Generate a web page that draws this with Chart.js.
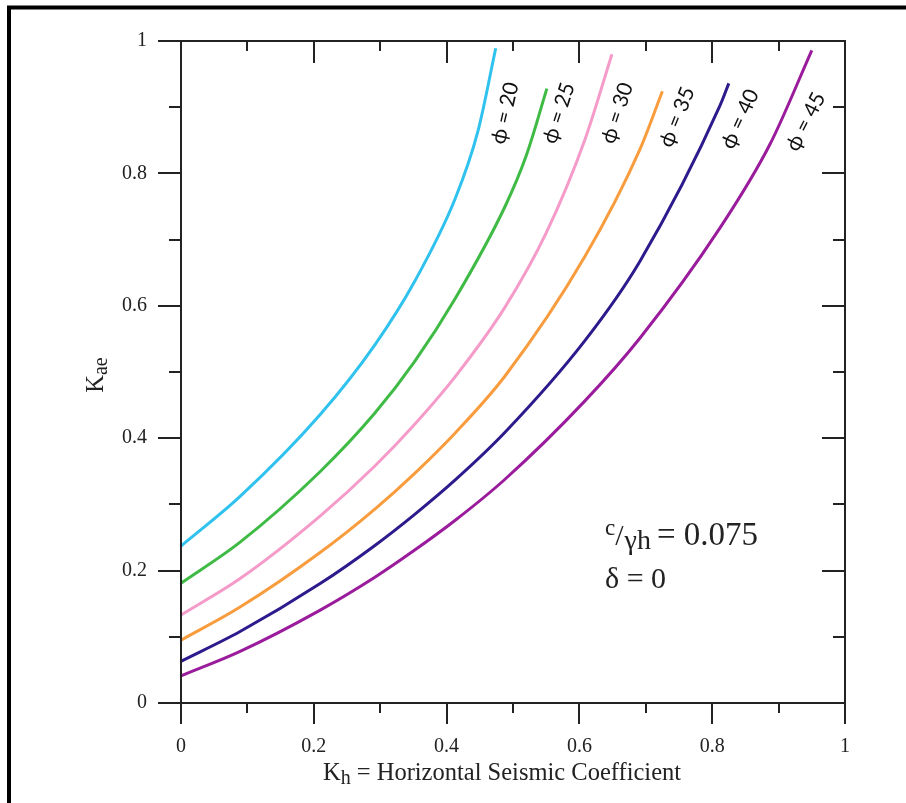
<!DOCTYPE html>
<html>
<head>
<meta charset="utf-8">
<script src="https://cdn.jsdelivr.net/npm/chart.js@4/dist/chart.umd.min.js"></script>
<style>
  html, body { margin: 0; padding: 0; background: #fff; }
  #wrap { width: 906px; height: 803px; position: relative; }
</style>
</head>
<body>
<div id="wrap"><canvas id="c" width="906" height="803"></canvas></div>
<script>
// Seismic active earth pressure coefficient Kae vs horizontal seismic coefficient Kh
// for c/(γh) = 0.075, δ = 0, one curve per friction angle φ.
const frictionAngles = [20, 25, 30, 35, 40, 45];

const khPhi20  = [0, 0.089, 0.209, 0.292, 0.352, 0.413, 0.447, 0.474];
const kaePhi20 = [0.237, 0.312, 0.435, 0.541, 0.637, 0.762, 0.863, 0.989];

const khPhi25  = [0, 0.089, 0.209, 0.292, 0.352, 0.413, 0.488, 0.520, 0.551];
const kaePhi25 = [0.181, 0.243, 0.349, 0.438, 0.516, 0.611, 0.750, 0.827, 0.928];

const khPhi30  = [0, 0.089, 0.209, 0.292, 0.352, 0.413, 0.488, 0.550, 0.608, 0.649];
const kaePhi30 = [0.133, 0.188, 0.282, 0.358, 0.421, 0.493, 0.598, 0.710, 0.850, 0.980];

const khPhi35  = [0, 0.089, 0.209, 0.292, 0.352, 0.413, 0.488, 0.608, 0.691, 0.725];
const kaePhi35 = [0.095, 0.145, 0.227, 0.293, 0.347, 0.408, 0.494, 0.674, 0.836, 0.924];

const khPhi40  = [0, 0.089, 0.209, 0.292, 0.352, 0.413, 0.488, 0.608, 0.691, 0.812, 0.825];
const kaePhi40 = [0.063, 0.108, 0.180, 0.238, 0.285, 0.337, 0.409, 0.547, 0.667, 0.903, 0.936];

const khPhi45  = [0, 0.089, 0.209, 0.292, 0.352, 0.413, 0.488, 0.608, 0.691, 0.812, 0.887, 0.950];
const kaePhi45 = [0.041, 0.078, 0.140, 0.190, 0.231, 0.276, 0.338, 0.456, 0.551, 0.718, 0.844, 0.986];

// Axis ticks
const xTickValues = [0, 0.2, 0.4, 0.6, 0.8, 1];
const yTickValues = [0, 0.2, 0.4, 0.6, 0.8, 1];

// Where each "φ = n" label sits, in data units (Kh, Kae), and its slant
const labelKh  = [0.488, 0.569, 0.657, 0.747, 0.842, 0.941];
const labelKae = [0.891, 0.891, 0.891, 0.885, 0.882, 0.878];
const labelAngle = [-77, -72, -72, -68, -65, -63];

const seriesKh  = [khPhi20, khPhi25, khPhi30, khPhi35, khPhi40, khPhi45];
const seriesKae = [kaePhi20, kaePhi25, kaePhi30, kaePhi35, kaePhi40, kaePhi45];
const colors = ['#2fc2ef', '#3fbb45', '#f59bc9', '#f89c3e', '#2c1b8c', '#9a1c9c'];

const SERIF = '"Liberation Serif", "Times New Roman", serif';
const INK = '#222';

const datasets = frictionAngles.map((phi, i) => ({
  label: 'φ = ' + phi,
  data: seriesKh[i].map((x, j) => ({ x: x, y: seriesKae[i][j] })),
  showLine: true,
  borderColor: colors[i],
  backgroundColor: colors[i],
  borderWidth: 3,
  pointRadius: 0,
  fill: false,
  cubicInterpolationMode: 'monotone'
}));

// Draws a run of text pieces with their own sizes and vertical shifts
function drawRuns(ctx, x, y, runs) {
  let cx = x;
  ctx.textAlign = 'left';
  ctx.textBaseline = 'alphabetic';
  runs.forEach(r => {
    ctx.font = r.size + 'px ' + (r.family || SERIF);
    ctx.fillText(r.t, cx, y + (r.dy || 0));
    cx += ctx.measureText(r.t).width + (r.gap || 0);
  });
  return cx - x;
}
function runsWidth(ctx, runs) {
  let w = 0;
  runs.forEach(r => {
    ctx.font = r.size + 'px ' + (r.family || SERIF);
    w += ctx.measureText(r.t).width + (r.gap || 0);
  });
  return w;
}

const framePlugin = {
  id: 'frame',
  beforeDraw(chart) {
    const ctx = chart.ctx;
    ctx.save();
    ctx.fillStyle = '#fff';
    ctx.fillRect(0, 0, chart.width, chart.height);
    // page border along top and left edge
    ctx.strokeStyle = '#000';
    ctx.lineWidth = 4;
    ctx.beginPath();
    ctx.moveTo(9, chart.height);
    ctx.lineTo(9, 7.5);
    ctx.lineTo(chart.width, 7.5);
    ctx.stroke();
    ctx.restore();
  },
  afterDraw(chart) {
    const ctx = chart.ctx;
    const xs = chart.scales.x, ys = chart.scales.y;
    const a = chart.chartArea;
    ctx.save();
    ctx.strokeStyle = INK;
    ctx.lineWidth = 2;
    ctx.strokeRect(a.left, a.top, a.right - a.left, a.bottom - a.top);
    ctx.beginPath();
    for (let k = 0; k <= 10; k++) {
      const v = k / 10;
      const major = k % 2 === 0;
      const px = Math.round(xs.getPixelForValue(v));
      const py = Math.round(ys.getPixelForValue(v));
      const lo = major ? 21 : 10;
      const li = major ? 22 : 10;
      // bottom: outward, top: inward
      ctx.moveTo(px, a.bottom); ctx.lineTo(px, a.bottom + lo);
      ctx.moveTo(px, a.top); ctx.lineTo(px, a.top + li);
      // left: outward, right: inward
      ctx.moveTo(a.left, py); ctx.lineTo(a.left - (major ? 23 : 12), py);
      ctx.moveTo(a.right, py); ctx.lineTo(a.right - (major ? 23 : 12), py);
    }
    ctx.stroke();

    ctx.fillStyle = INK;
    // x axis title
    const xt = [
      { t: 'K', size: 24.5 },
      { t: 'h', size: 20, dy: 4 },
      { t: ' = Horizontal Seismic Coefficient', size: 24.5 }
    ];
    const xw = runsWidth(ctx, xt);
    drawRuns(ctx, 502 - xw / 2, 780, xt);

    // y axis title, rotated
    const yt = [
      { t: 'K', size: 24.5 },
      { t: 'ae', size: 20, dy: 4 }
    ];
    const yw = runsWidth(ctx, yt);
    ctx.save();
    ctx.translate(103, 375);
    ctx.rotate(-Math.PI / 2);
    drawRuns(ctx, -yw / 2, 0, yt);
    ctx.restore();

    // parameter note
    const nx = xs.getPixelForValue(0.6386);
    drawRuns(ctx, nx, ys.getPixelForValue(0.2387), [
      { t: 'c', size: 23, dy: -10 },
      { t: '/', size: 30, gap: 1 },
      { t: 'γh', size: 28, dy: 4, gap: 6 },
      { t: '= 0.075', size: 33 }
    ]);
    drawRuns(ctx, nx, ys.getPixelForValue(0.1737), [
      { t: 'δ = 0', size: 30 }
    ]);

    // curve labels
    frictionAngles.forEach((phi, i) => {
      ctx.save();
      ctx.translate(xs.getPixelForValue(labelKh[i]), ys.getPixelForValue(labelKae[i]));
      ctx.rotate(labelAngle[i] * Math.PI / 180);
      ctx.font = '21px Lato, "Open Sans", sans-serif';
      ctx.fillStyle = '#111';
      ctx.textAlign = 'center';
      ctx.textBaseline = 'middle';
      ctx.fillText('ϕ = ' + phi, 0, 0);
      ctx.restore();
    });
    ctx.restore();
  }
};

new Chart(document.getElementById('c'), {
  type: 'scatter',
  data: { datasets: datasets },
  options: {
    responsive: false,
    animation: false,
    devicePixelRatio: 1,
    layout: { padding: { left: 0, right: 61, top: 41, bottom: 0 } },
    plugins: { legend: { display: false }, tooltip: { enabled: false } },
    scales: {
      x: {
        type: 'linear',
        position: 'bottom',
        min: 0, max: 1,
        grid: { display: false, drawTicks: true, tickLength: 32 },
        border: { display: false },
        afterBuildTicks: s => { s.ticks = xTickValues.map(v => ({ value: v })); },
        ticks: {
          autoSkip: false, maxRotation: 0, padding: 0,
          color: INK, font: { family: SERIF, size: 20 },
          callback: v => String(+v.toFixed(1))
        },
        afterFit: s => { s.height = 100; }
      },
      y: {
        type: 'linear',
        position: 'left',
        min: 0, max: 1,
        grid: { display: false, drawTicks: true, tickLength: 34 },
        border: { display: false },
        afterBuildTicks: s => { s.ticks = yTickValues.map(v => ({ value: v })); },
        ticks: {
          autoSkip: false, padding: 0,
          color: INK, font: { family: SERIF, size: 20 },
          callback: v => String(+v.toFixed(1))
        },
        afterFit: s => { s.width = 181; }
      }
    }
  },
  plugins: [framePlugin]
});
</script>
</body>
</html>
